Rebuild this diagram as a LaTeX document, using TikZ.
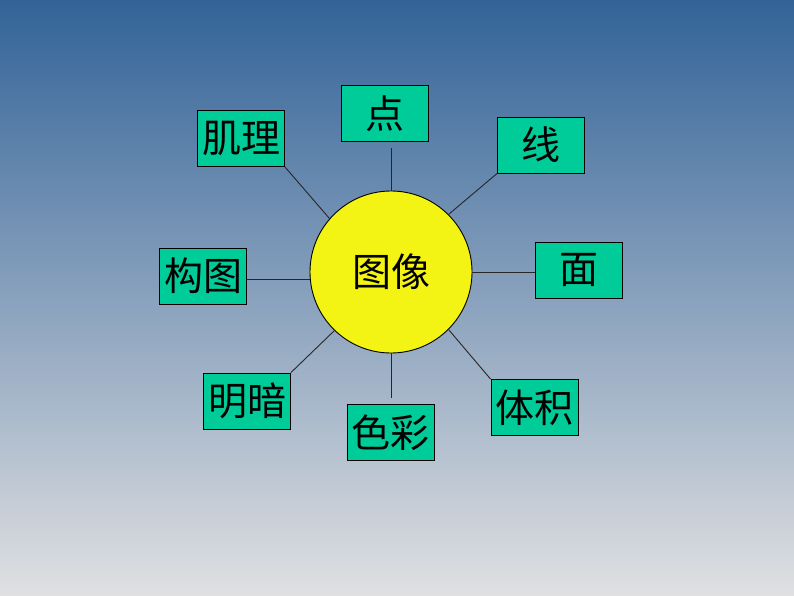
\documentclass[tikz,border=0pt]{standalone}
\usepackage{fontspec}
\newfontfamily\cjk{Noto Sans CJK SC}
\definecolor{bgtop}{RGB}{50,99,152}
\definecolor{bgbot}{RGB}{224,224,226}
\definecolor{boxgreen}{RGB}{0,204,153}
\definecolor{sun}{RGB}{243,243,20}
\begin{document}
\begin{tikzpicture}[x=1pt,y=-1pt,
  box/.style={draw=black, fill=boxgreen, line width=0.9pt, minimum width=87pt, minimum height=56pt, inner sep=0pt, font=\cjk\fontsize{39}{42}\selectfont},
  link/.style={draw=black!85, line width=0.9pt}]
\shade[top color=bgtop, bottom color=bgbot] (0,0) rectangle (794,596);
\useasboundingbox (0,0) rectangle (794,596);
\node[circle, draw=black, line width=0.9pt, fill=sun, minimum size=162pt, inner sep=0pt, font=\cjk\fontsize{39}{42}\selectfont] (c) at (391,272) {图像};
\node[box] (jili) at (241,138.5) {肌理};
\node[box] (dian) at (384.5,113.5) {点};
\node[box] (xian) at (541,145) {线};
\node[box] (mian) at (578.5,270) {面};
\node[box] (tiji) at (534.5,407.5) {体积};
\node[box] (secai) at (390.5,432.5) {色彩};
\node[box] (mingan) at (247,401) {明暗};
\node[box] (goutu) at (203,276) {构图};
\draw[link, shorten >=6pt] (c.north) -- (c.north |- dian.south);
\draw[link] (c.139) -- (jili.south east);
\draw[link] (c.45) -- (xian.south west);
\draw[link] (c.east) -- (c.east -| mian.west);
\draw[link] (c.-45) -- (tiji.north west);
\draw[link, shorten >=6pt] (c.south) -- (c.south |- secai.north);
\draw[link] (c.226) -- (mingan.north east);
\draw[link] (c.185) -- (c.185 -| goutu.east);
\end{tikzpicture}
\end{document}
